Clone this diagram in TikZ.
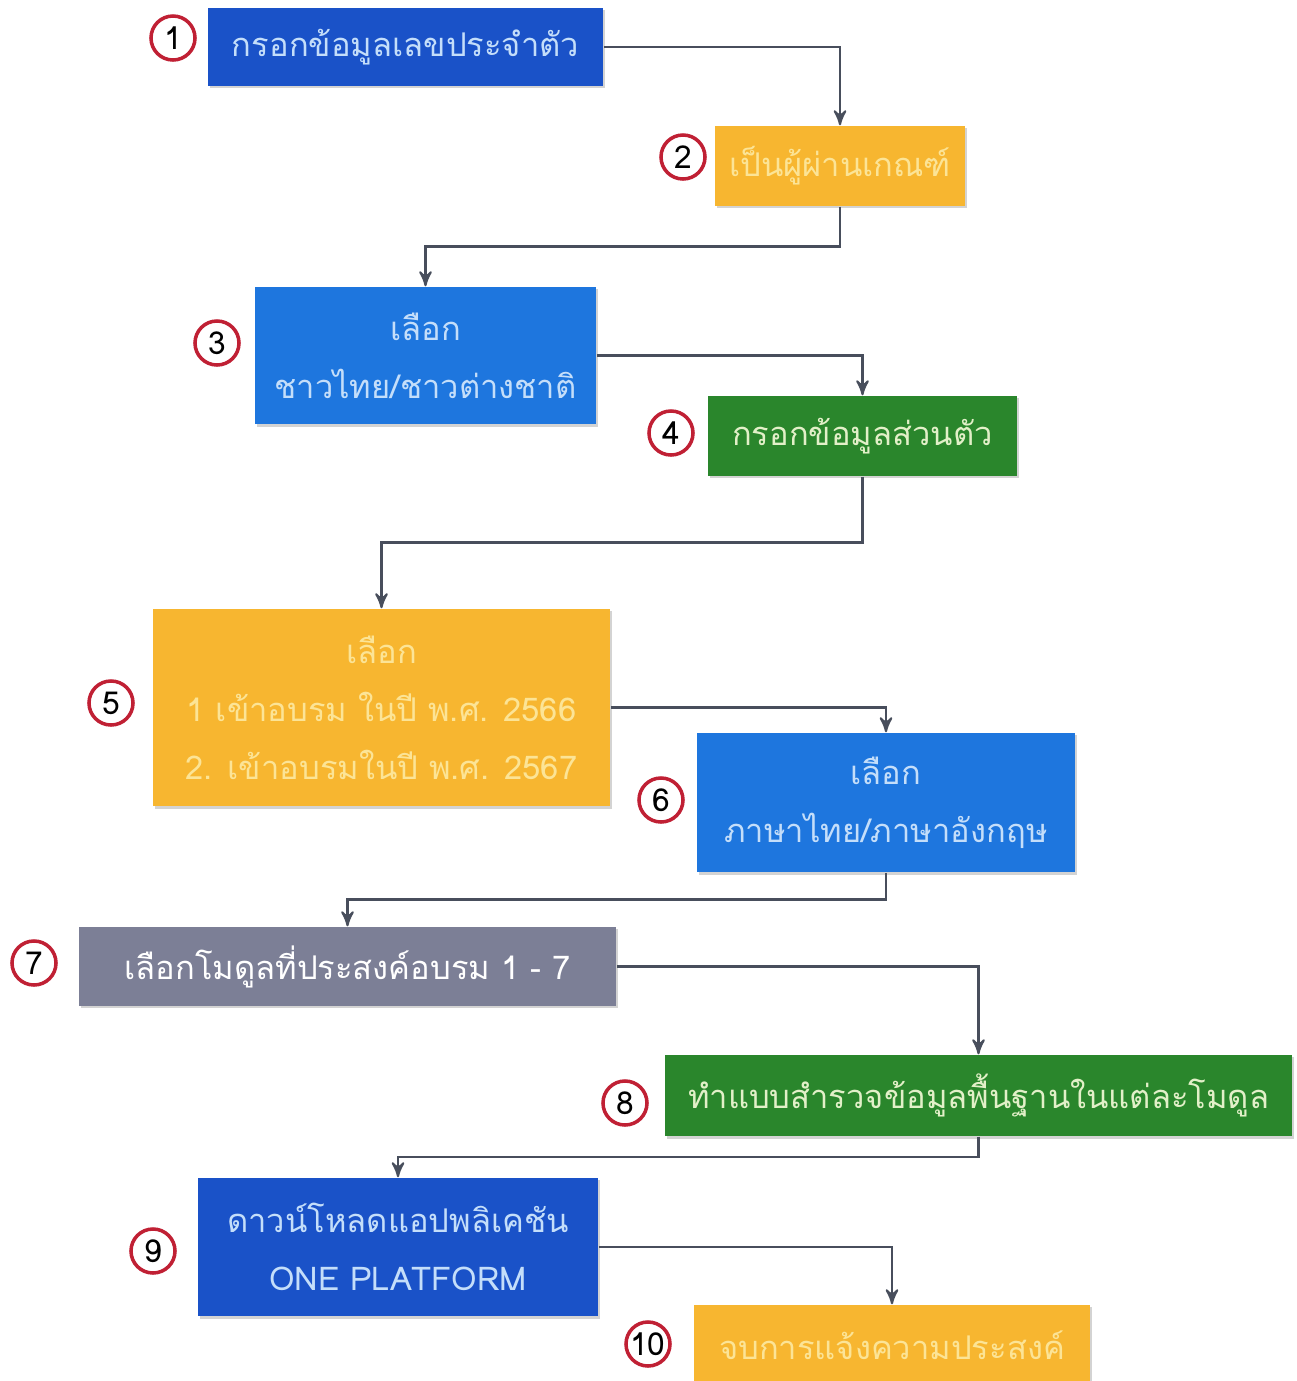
\documentclass[tikz,border=0pt]{standalone}
\usepackage{fontspec}
\newfontfamily\thaifont[Script=Thai]{Loma}
\usepackage{tikz}
\usetikzlibrary{arrows}
\usetikzlibrary{calc}
\usetikzlibrary{shadows}
\definecolor{navy}{RGB}{26,82,200}
\definecolor{sky}{RGB}{30,118,222}
\definecolor{amber}{RGB}{247,182,48}
\definecolor{leaf}{RGB}{42,134,44}
\definecolor{slate}{RGB}{124,127,150}
\definecolor{ringred}{RGB}{192,32,52}
\definecolor{linegray}{RGB}{72,78,92}
\definecolor{paleblue}{RGB}{196,222,250}
\definecolor{paleyellow}{RGB}{252,228,150}
\definecolor{palegreen}{RGB}{226,240,200}
\tikzset{> = stealth',
  box/.style = {rectangle, inner sep=0pt, align=center,
    font={\thaifont\fontsize{9.3}{16.5}\selectfont},
    drop shadow={opacity=.35, shadow xshift=.5pt, shadow yshift=-.7pt}},
  num/.style = {circle, draw=ringred, line width=1pt, fill=white,
    minimum size=.44cm, inner sep=0pt, font={\thaifont\fontsize{9}{9}\selectfont}},
  link/.style = {->, draw=linegray, line width=.6pt}}

\begin{document}
\begin{tikzpicture}[x=0.01cm, y=-0.01cm]
  \useasboundingbox (0,0) rectangle (1296,1381);
  % nodes
  \node [box, fill=navy, text=paleblue, minimum width=3.95cm, minimum height=.78cm] (b1) at (405.5,47) {กรอกข้อมูลเลขประจำตัว};
  \node [box, fill=amber, text=paleyellow, minimum width=2.5cm, minimum height=.8cm] (b2) at (840,166) {เป็นผู้ผ่านเกณฑ์};
  \node [box, fill=sky, text=paleblue, minimum width=3.41cm, minimum height=1.37cm] (b3) at (425.5,355.5) {เลือก\\ชาวไทย/ชาวต่างชาติ};
  \node [box, fill=leaf, text=palegreen, minimum width=3.09cm, minimum height=.8cm] (b4) at (862.5,436) {กรอกข้อมูลส่วนตัว};
  \node [box, fill=amber, text=paleyellow, minimum width=4.57cm, minimum height=1.97cm] (b5) at (381.5,707.5) {เลือก\\1 เข้าอบรม ในปี พ.ศ. 2566\\2. เข้าอบรมในปี พ.ศ. 2567};
  \node [box, fill=sky, text=paleblue, minimum width=3.78cm, minimum height=1.39cm] (b6) at (886,802.5) {เลือก\\ภาษาไทย/ภาษาอังกฤษ};
  \node [box, fill=slate, text=white, minimum width=5.37cm, minimum height=.79cm] (b7) at (347.5,966.5) {เลือกโมดูลที่ประสงค์อบรม 1 - 7};
  \node [box, fill=leaf, text=palegreen, minimum width=6.27cm, minimum height=.81cm] (b8) at (978.5,1095.5) {ทำแบบสำรวจข้อมูลพื้นฐานในแต่ละโมดูล};
  \node [box, fill=navy, text=paleblue, minimum width=4cm, minimum height=1.38cm] (b9) at (398,1247) {ดาวน์โหลดแอปพลิเคชัน\\ONE PLATFORM};
  \node [box, fill=amber, text=paleyellow, minimum width=3.96cm, minimum height=.8cm] (b10) at (892,1345) {จบการแจ้งความประสงค์};
  % step numbers
  \node [num] (n1) at (173,38) {1};
  \node [num] (n2) at (683,157) {2};
  \node [num] (n3) at (217,343) {3};
  \node [num] (n4) at (671,433) {4};
  \node [num] (n5) at (111,703) {5};
  \node [num] (n6) at (661,800) {6};
  \node [num] (n7) at (34,963) {7};
  \node [num] (n8) at (625,1103) {8};
  \node [num] (n9) at (153,1251) {9};
  \node [num] (n10) at (648,1344) {10};
  % paths
  \draw [link] (b1.east) -| (b2.north);
  \draw [link] (b2.south) |- ($(b2.south)!.5!(b3.north)$) -| (b3.north);
  \draw [link] (b3.east) -| (b4.north);
  \draw [link] (b4.south) |- ($(b4.south)!.5!(b5.north)$) -| (b5.north);
  \draw [link] (b5.east) -| (b6.north);
  \draw [link] (b6.south) |- ($(b6.south)!.5!(b7.north)$) -| (b7.north);
  \draw [link] (b7.east) -| (b8.north);
  \draw [link] (b8.south) |- ($(b8.south)!.5!(b9.north)$) -| (b9.north);
  \draw [link] (b9.east) -| (b10.north);
\end{tikzpicture}
\end{document}
